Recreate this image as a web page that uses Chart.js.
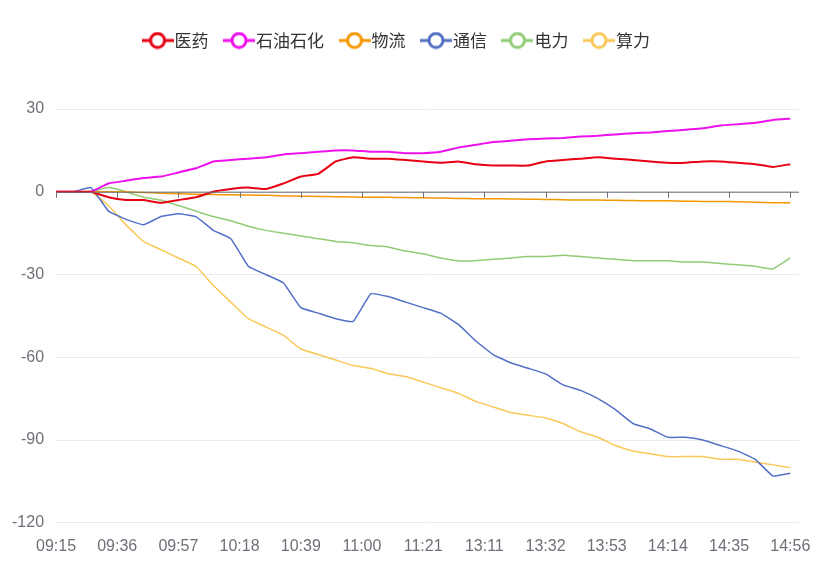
<!DOCTYPE html>
<html>
<head>
<meta charset="utf-8">
<script src="https://cdn.jsdelivr.net/npm/chart.js@4"></script>
<style>
  body { margin: 0; background: #fff; }
  #wrap { width: 819px; height: 570px; }
</style>
</head>
<body>
<div id="wrap"><canvas id="chart"></canvas></div>
<script>
// minute index since 09:15 (trading minutes, lunch skipped)
const minuteIdx = [0, 6, 12, 18, 24, 30, 36, 42, 48, 54, 60, 66, 72, 78, 84, 90, 96, 102, 108, 114, 120, 126, 132, 138, 144, 150, 156, 162, 168, 174, 180, 186, 192, 198, 204, 210, 216, 222, 228, 234, 240, 246, 252]
const tickLabels = ['09:15', '09:36', '09:57', '10:18', '10:39', '11:00', '11:21', '13:11', '13:32', '13:53', '14:14', '14:35', '14:56']

const names = ['医药', '石油石化', '物流', '通信', '电力', '算力']
const colors = ['#e60012', '#ee11ee', '#f39800', '#5470c6', '#91cc75', '#fac858']

const medicine = [0, 0, 0, -2, -3, -3, -4, -3, -2, 0, 1, 1.5, 1, 3, 5.5, 6.5, 11, 12.5, 12, 12, 11.5, 11, 10.5, 11, 10, 9.5, 9.5, 9.5, 11, 11.5, 12, 12.5, 12, 11.5, 11, 10.5, 10.5, 11, 11, 10.5, 10, 9, 10]
const petro = [0, 0, 0, 3, 4, 5, 5.5, 7, 8.5, 11, 11.5, 12, 12.5, 13.5, 14, 14.5, 15, 15, 14.5, 14.5, 14, 14, 14.5, 16, 17, 18, 18.5, 19, 19.3, 19.5, 20, 20.3, 20.8, 21.2, 21.5, 22, 22.5, 23, 24, 24.5, 25, 26, 26.5]
const logistics = [0, 0, 0, 0, 0, -0.3, -0.5, -0.7, -0.9, -1, -1.1, -1.2, -1.3, -1.5, -1.6, -1.7, -1.8, -1.9, -2, -2, -2.1, -2.2, -2.3, -2.4, -2.5, -2.5, -2.6, -2.7, -2.8, -2.9, -3, -3, -3.1, -3.2, -3.3, -3.3, -3.4, -3.5, -3.5, -3.6, -3.8, -4, -4]
const telecom = [0, 0, 1.5, -7, -10, -12, -9, -8, -9, -14, -17, -27, -30, -33, -42, -44, -46, -47, -37, -38, -40, -42, -44, -48, -54, -59, -62, -64, -66, -70, -72, -75, -79, -84, -86, -89, -89, -90, -92, -94, -97, -103, -102]
const power = [0, 0, 0, 1.5, 0, -2, -3, -5, -7, -9, -10.5, -12.5, -14, -15, -16, -17, -18, -18.5, -19.5, -20, -21.5, -22.5, -24, -25, -25, -24.5, -24, -23.5, -23.5, -23, -23.5, -24, -24.5, -25, -25, -25, -25.5, -25.5, -26, -26.5, -27, -28, -24]
const computing = [0, 0, 0, -5, -12, -18, -21, -24, -27, -34, -40, -46, -49, -52, -57, -59, -61, -63, -64, -66, -67, -69, -71, -73, -76, -78, -80, -81, -82, -84, -87, -89, -92, -94, -95, -96, -96, -96, -97, -97, -98, -99, -100]

const series = [medicine, petro, logistics, telecom, power, computing]

// legend icon: short line with hollow circle
function legendIcon (color) {
  const c = document.createElement('canvas')
  c.width = 32
  c.height = 18
  const g = c.getContext('2d')
  g.strokeStyle = color
  g.lineWidth = 3
  g.beginPath(); g.moveTo(0, 9); g.lineTo(32, 9); g.stroke()
  g.fillStyle = '#fff'
  g.beginPath(); g.arc(16, 9, 7, 0, Math.PI * 2); g.fill(); g.stroke()
  return c
}

// leave room under the legend
const legendGap = {
  id: 'legendGap',
  beforeInit (chart) {
    const fit = chart.legend.fit
    chart.legend.fit = function () {
      fit.bind(this)()
      this.height += 50
    }
  }
}

// x axis drawn on the zero line, like the original
const zeroAxis = {
  id: 'zeroAxis',
  afterDatasetsDraw (chart) {
    const { ctx, scales: { x, y } } = chart
    const y0 = y.getPixelForValue(0)
    ctx.save()
    ctx.strokeStyle = '#6e7079'
    ctx.lineWidth = 1
    ctx.beginPath()
    ctx.moveTo(x.left, y0 + 0.5); ctx.lineTo(x.right, y0 + 0.5)
    for (let i = 0; i < tickLabels.length; i++) {
      const px = Math.round(x.getPixelForValue(i * 21)) + 0.5
      ctx.moveTo(px, y0); ctx.lineTo(px, y0 + 6)
    }
    ctx.stroke()
    ctx.restore()
  }
}

new Chart(document.getElementById('chart'), {
  type: 'line',
  data: {
    datasets: series.map((s, k) => ({
      label: names[k],
      data: s.map((v, i) => ({ x: minuteIdx[i], y: v })),
      borderColor: colors[k],
      backgroundColor: colors[k],
      borderWidth: k === 1 || k === 0 ? 2 : 1.5,
      pointRadius: 0,
      tension: 0.1,
      pointStyle: legendIcon(colors[k])
    }))
  },
  options: {
    responsive: true,
    maintainAspectRatio: false,
    animation: false,
    layout: { padding: { left: 0, right: 20, top: 10, bottom: 8 } },
    plugins: {
      tooltip: { enabled: false },
      legend: {
        labels: {
          usePointStyle: true,
          font: { size: 17, family: 'Noto Sans CJK SC' },
          color: '#333',
          padding: 22
        }
      }
    },
    scales: {
      x: {
        type: 'linear',
        min: 0,
        max: 255,
        afterBuildTicks: (axis) => { axis.ticks = tickLabels.map((_, i) => ({ value: i * 21 })) },
        ticks: {
          autoSkip: false,
          maxRotation: 0,
          callback: (v) => tickLabels[v / 21],
          color: '#6e7079',
          font: { size: 16 },
          padding: 6
        },
        grid: { display: false },
        border: { display: false }
      },
      y: {
        min: -120,
        max: 30,
        afterBuildTicks: (axis) => { axis.ticks = [-120, -90, -60, -30, 0, 30].map(v => ({ value: v })) },
        ticks: { color: '#6e7079', font: { size: 16 }, padding: 12 },
        grid: { color: '#ebebeb', drawTicks: false },
        border: { display: false }
      }
    }
  },
  plugins: [zeroAxis, legendGap]
})
</script>
</body>
</html>
